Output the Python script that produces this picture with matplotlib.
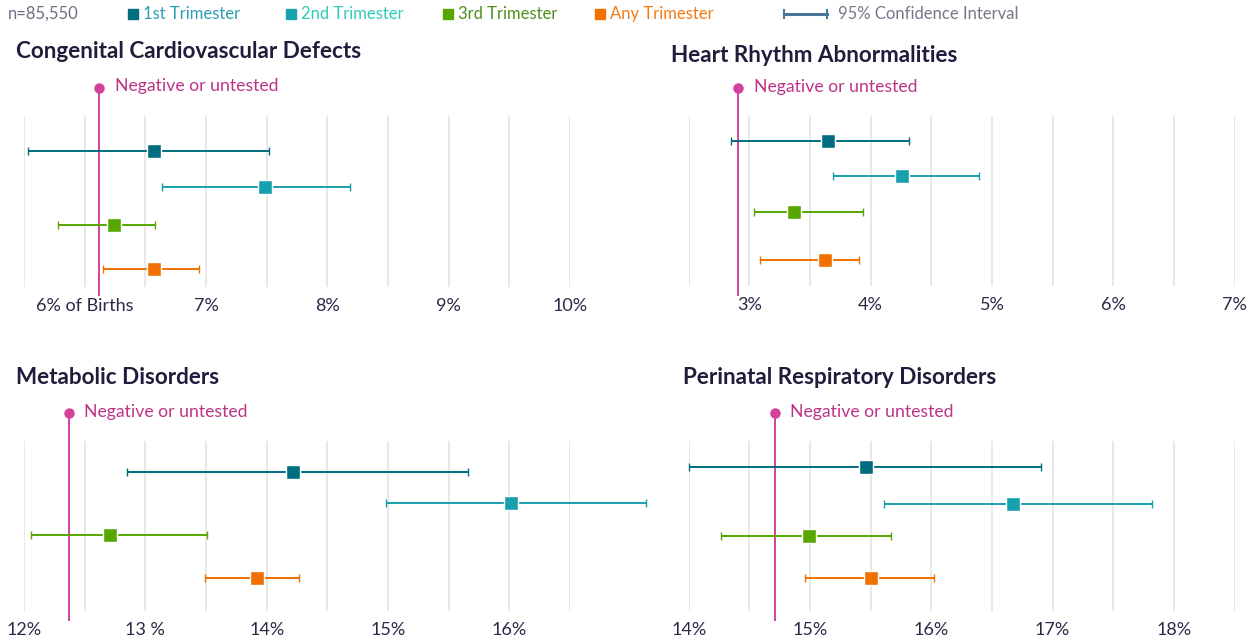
import numpy as np
import matplotlib
matplotlib.use("Agg")
import matplotlib.pyplot as plt
from matplotlib.lines import Line2D
import matplotlib.transforms as mtransforms

plt.rcParams['font.family'] = ['Lato', 'DejaVu Sans']

# ---- data ----
panels = ["Congenital Cardiovascular Defects", "Heart Rhythm Abnormalities",
          "Metabolic Disorders", "Perinatal Respiratory Disorders"]
series = ["1st Trimester", "2nd Trimester", "3rd Trimester", "Any Trimester"]

estimate = [[6.57, 7.49, 6.24, 6.57],
            [3.65, 4.26, 3.37, 3.62],
            [14.22, 16.01, 12.71, 13.92],
            [15.46, 16.67, 14.99, 15.50]]
ci_low = [[5.53, 6.64, 5.78, 6.15],
          [2.85, 3.69, 3.04, 3.09],
          [12.85, 14.98, 12.06, 13.49],
          [14.00, 15.61, 14.27, 14.96]]
ci_high = [[7.52, 8.19, 6.58, 6.94],
           [4.32, 4.89, 3.94, 3.90],
           [15.66, 17.13, 13.51, 14.27],
           [16.90, 17.82, 15.67, 16.02]]
negative = [6.12, 2.91, 12.37, 14.71]

x_min = [5.5, 2.5, 12.0, 14.0]
tick_labels = [["6% of Births", "7%", "8%", "9%", "10%"],
               ["3%", "4%", "5%", "6%", "7%"],
               ["12%", "13 %", "14%", "15%", "16%"],
               ["14%", "15%", "16%", "17%", "18%"]]

# ---- style ----
marker_colors = ["#006e80", "#17a0ad", "#56a800", "#f07000"]
text_colors = ["#2a9fb3", "#2fcdb5", "#4e8f1c", "#f47a14"]
title_color = "#1e1e3c"
tick_color = "#2a2a48"
neg_color = "#d2419b"
neg_text = "#bd3487"
grid_color = "#e2e2e2"

W, H = 1256, 641
fig = plt.figure(figsize=(W / 100, H / 100), dpi=100)


def fx(px):
    return px / W


def fy(py):
    return 1 - py / H


# axes boxes in pixels: left, top, right, bottom
boxes = [(24, 116, 570, 286.7), (688.7, 116, 1234.6, 286),
         (24, 441, 570, 611), (688.7, 441, 1234.6, 611)]
# row positions inside each box (fraction from top)
rows = [[0.203, 0.416, 0.641, 0.899],
        [0.147, 0.351, 0.563, 0.847],
        [0.181, 0.367, 0.555, 0.808],
        [0.155, 0.373, 0.559, 0.808]]
title_pos = [(16, 51), (671, 55), (16, 378), (683, 378)]

for i, name in enumerate(panels):
    l, t, r, b = boxes[i]
    ax = fig.add_axes([fx(l), fy(b), fx(r - l), (b - t) / H])
    ax.set_xlim(x_min[i], x_min[i] + 4.5)
    ax.set_ylim(1, 0)

    # gridlines every half percent, labels only on whole percents
    grid_vals = np.arange(x_min[i], x_min[i] + 4.51, 0.5)
    labels = []
    k = 0
    for v in grid_vals:
        if abs(v - round(v)) < 1e-9 and k < len(tick_labels[i]):
            labels.append(tick_labels[i][k])
            k += 1
        else:
            labels.append("")
    ax.set_xticks(grid_vals)
    ax.set_xticklabels(labels, fontsize=13, color=tick_color)
    ax.xaxis.grid(True, color=grid_color, lw=1.1)
    ax.tick_params(axis='x', length=0, pad=8)
    ax.set_yticks([])
    for s in ax.spines.values():
        s.set_visible(False)
    ax.set_axisbelow(True)

    for j in range(4):
        m = estimate[i][j]
        err = [[m - ci_low[i][j]], [ci_high[i][j] - m]]
        eb = ax.errorbar([m], [rows[i][j]], xerr=err, fmt='s', color=marker_colors[j],
                         ms=10, mec='white', mew=1.0, elinewidth=1.4, capsize=3,
                         capthick=1.4, zorder=3)
        for a in eb.lines[1] + eb.lines[2] + (eb.lines[0],):
            a.set_clip_on(False)

    trans = mtransforms.blended_transform_factory(ax.transData, ax.transAxes)
    ax.plot([negative[i], negative[i]], [-0.05, 1.165], color=neg_color, lw=1.4,
            transform=trans, clip_on=False, zorder=2)
    ax.plot([negative[i]], [1.165], 'o', color=neg_color, ms=6.5,
            transform=trans, clip_on=False, zorder=4)
    ax.annotate("Negative or untested", xy=(negative[i], 1.165), xycoords=trans,
                xytext=(11, 1), textcoords='offset points', va='center', ha='left',
                fontsize=12.7, color=neg_text, annotation_clip=False)

    fig.text(fx(title_pos[i][0]), fy(title_pos[i][1]), name, fontsize=16.2,
             fontweight='bold', color=title_color, va='center', ha='left')

# ---- legend row ----
ly = fy(14)
fig.text(fx(8), ly, "n=85,550", fontsize=12, color="#6e6e80", va='center')
square_x = [133, 291, 448, 600]
for j, lab in enumerate(series):
    fig.add_artist(Line2D([fx(square_x[j])], [ly], marker='s', ms=6.5, ls='none',
                          color=marker_colors[j], transform=fig.transFigure))
    fig.text(fx(square_x[j] + 10), ly, lab, fontsize=12, color=text_colors[j], va='center')
fig.add_artist(Line2D([fx(784), fx(827)], [ly, ly], color="#4a7898", lw=2.2,
                      transform=fig.transFigure))
for cx in (784, 827):
    fig.add_artist(Line2D([fx(cx), fx(cx)], [ly - 0.007, ly + 0.007], color="#4a7898",
                          lw=1.5, transform=fig.transFigure))
fig.text(fx(838), ly, "95% Confidence Interval", fontsize=12, color="#77778a", va='center')

fig.savefig("out.png", dpi=100)
